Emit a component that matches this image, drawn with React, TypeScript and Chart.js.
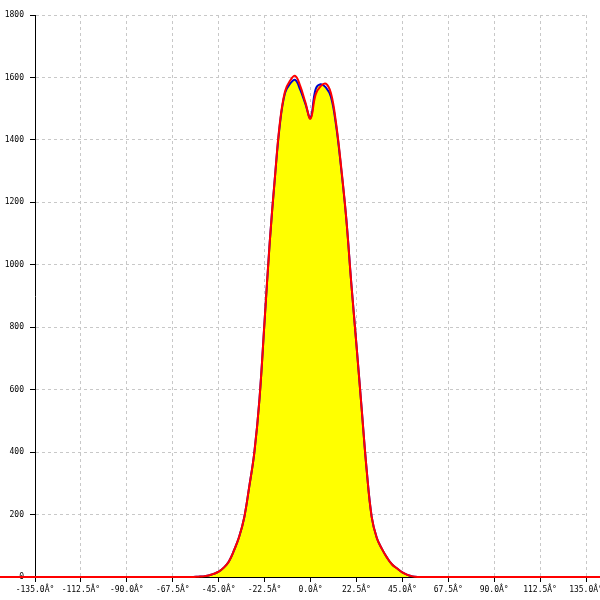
import React, { useEffect, useRef } from "react";
import { Chart, registerables } from "chart.js";

Chart.register(...registerables);

const angles = [
  -57.5, -55, -52.5, -50, -47.5, -45, -42.5, -40, -37.5, -35, -32.5, -30, -27.5, -25, -22.5, -20,
  -17.5, -15, -12.5, -10, -7.5, -5, -2.5, 0, 2.5, 5, 7.5, 10, 12.5, 15, 17.5, 20, 22.5, 25, 27.5,
  30, 32.5, 35, 37.5, 40, 42.5, 45, 47.5, 50, 52.5, 55,
];

const redValues = [
  0, 1, 2, 5, 10, 17, 30, 50, 85, 128, 190, 290, 400, 570, 820, 1070,
  1275, 1455, 1555, 1590, 1605, 1572, 1520, 1468, 1545, 1572, 1580, 1550, 1455, 1315, 1150, 940, 745, 545, 345,
  192, 125, 90, 62, 40, 27, 15, 7, 2, 0, 0,
];

const blueValues = [
  0, 1, 2, 5, 10, 17, 30, 50, 85, 128, 190, 290, 400, 570, 820, 1070,
  1275, 1450, 1550, 1580, 1592, 1560, 1515, 1470, 1562, 1578, 1568, 1538, 1448, 1310, 1150, 940, 745, 545, 345,
  192, 125, 90, 62, 40, 27, 15, 7, 2, 0, 0,
];

const redOuterAngles = [-170, 170];
const xTickMin = -135;
const xTickMax = 135;
const xTickStep = 22.5;
const yTickMin = 0;
const yTickMax = 1800;
const yTickStep = 200;

export default function App() {
  const ref = useRef<HTMLCanvasElement | null>(null);

  useEffect(() => {
    if (!ref.current) return;
    const redPts = [
      { x: redOuterAngles[0], y: 0 },
      ...angles.map((a, i) => ({ x: a, y: redValues[i] })),
      { x: redOuterAngles[1], y: 0 },
    ];
    const bluePts = angles.map((a, i) => ({ x: a, y: blueValues[i] }));
    const font = { family: "'DejaVu Sans Mono', monospace", size: 8 };
    const chart = new Chart(ref.current, {
      type: "line",
      data: {
        datasets: [
          {
            data: redPts,
            borderColor: "#ff0000",
            borderWidth: 2,
            pointRadius: 0,
            fill: false,
            clip: false as any,
            tension: 0.4,
          },
          {
            data: bluePts,
            borderColor: "#0000cc",
            borderWidth: 2,
            pointRadius: 0,
            fill: "origin",
            backgroundColor: "#ffff00",
            tension: 0.4,
          },
        ],
      },
      options: {
        animation: false,
        responsive: false,
        maintainAspectRatio: false,
        layout: { padding: { top: 15, right: 14, left: 0, bottom: 0 } },
        plugins: { legend: { display: false }, tooltip: { enabled: false } },
        scales: {
          x: {
            type: "linear",
            min: xTickMin,
            max: xTickMax,
            ticks: {
              stepSize: xTickStep,
              color: "#000",
              font,
              padding: 3,
              maxRotation: 0,
              autoSkip: false,
              callback: (v: any) => Number(v).toFixed(1) + "Â°",
            },
            grid: {
              color: "#c8c8c8",
              tickColor: "#000",
              tickLength: 5,
              tickBorderDash: [],
            } as any,
            border: { color: "#000", width: 1, dash: [3, 3] },
            afterFit: (s: any) => {
              s.height = 23;
              s.paddingLeft = 0;
              s.paddingRight = 0;
            },
          },
          y: {
            type: "linear",
            min: yTickMin,
            max: yTickMax,
            ticks: {
              stepSize: yTickStep,
              color: "#000",
              font,
              padding: 6,
              callback: (v: any) => String(v),
            },
            grid: {
              color: "#c8c8c8",
              tickColor: "#000",
              tickLength: 5,
              tickBorderDash: [],
            } as any,
            border: { color: "#000", width: 1, dash: [3, 3] },
            afterFit: (s: any) => {
              s.width = 35;
              s.paddingTop = 0;
              s.paddingBottom = 0;
            },
          },
        },
      } as any,
    });
    return () => chart.destroy();
  }, []);

  return (
    <div style={{ position: "absolute", left: 0, top: 0, width: 600, height: 600, background: "#fff" }}>
      <canvas ref={ref} width={600} height={600} />
    </div>
  );
}
